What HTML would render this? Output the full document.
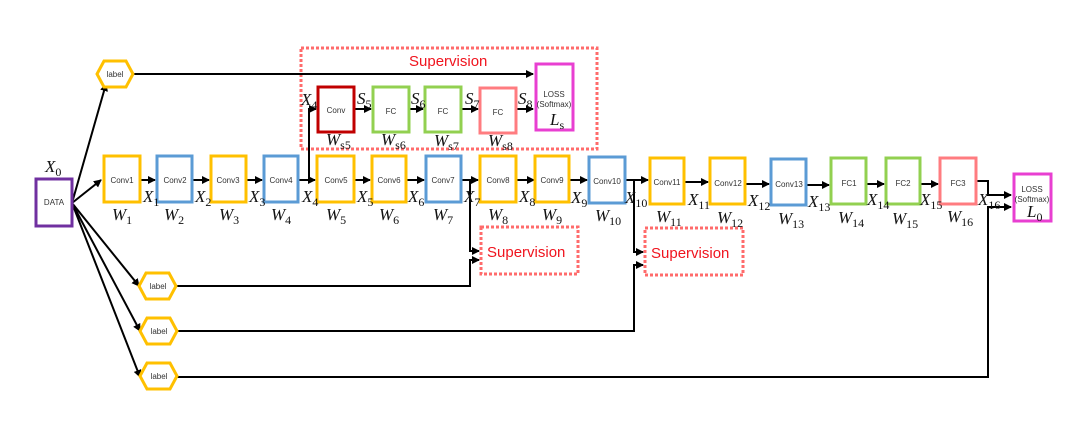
<!DOCTYPE html>
<html><head><meta charset="utf-8"><style>
html,body{margin:0;padding:0;background:#fff;}
svg{display:block;}
.bt{font-family:"Liberation Sans",sans-serif;font-size:8px;fill:#333;text-anchor:middle;}
.m{font-family:"Liberation Serif",serif;font-style:italic;font-size:17px;fill:#111;}
.s{font-size:12px;font-style:normal;}
.sup{font-family:"Liberation Sans",sans-serif;font-size:15px;fill:#f0141e;}
</style></head><body>
<svg width="1080" height="425" viewBox="0 0 1080 425" xmlns="http://www.w3.org/2000/svg">
<defs><marker id="a" markerWidth="8" markerHeight="8" refX="7" refY="4" orient="auto" markerUnits="userSpaceOnUse"><path d="M0,0 L8,4 L0,8 z" fill="#000"/></marker></defs>
<g fill="none" stroke="#ff6b6b" stroke-width="3" stroke-dasharray="3,2">
<rect x="301" y="48" width="296" height="101"/>
<rect x="481" y="227" width="97" height="47"/>
<rect x="645" y="228" width="98" height="47"/>
</g>
<text class="sup" x="409" y="66">Supervision</text>
<text class="sup" x="487" y="257">Supervision</text>
<text class="sup" x="651" y="258">Supervision</text>
<g stroke="#000" stroke-width="2" fill="none">
<line x1="133" y1="74" x2="533" y2="74" marker-end="url(#a)"/>
<line x1="72" y1="203" x2="101" y2="180" marker-end="url(#a)"/>
<line x1="72" y1="203" x2="106" y2="84" marker-end="url(#a)"/>
<line x1="72" y1="203" x2="139" y2="286" marker-end="url(#a)"/>
<line x1="72" y1="203" x2="140" y2="331" marker-end="url(#a)"/>
<line x1="72" y1="203" x2="140" y2="377" marker-end="url(#a)"/>
<polyline points="299,180 309,180 309,109 316,109" marker-end="url(#a)"/>
<line x1="355" y1="109" x2="371" y2="109" marker-end="url(#a)"/>
<line x1="410" y1="109" x2="423" y2="109" marker-end="url(#a)"/>
<line x1="462" y1="109" x2="478" y2="109" marker-end="url(#a)"/>
<line x1="517" y1="109" x2="533" y2="109" marker-end="url(#a)"/>
<polyline points="470,180 470,251 479,251" marker-end="url(#a)"/>
<polyline points="176,286 470,286 470,260 479,260" marker-end="url(#a)"/>
<polyline points="626,180 634,180 634,252 643,252" marker-end="url(#a)"/>
<polyline points="177,331 634,331 634,265 643,265" marker-end="url(#a)"/>
<polyline points="977,181 988,181 988,195 1011,195" marker-end="url(#a)"/>
<polyline points="177,377 988,377 988,207 1011,207" marker-end="url(#a)"/>
</g>
<g stroke="#000" stroke-width="2" marker-end="url(#a)">
<line x1="141" y1="180" x2="155" y2="180"/>
<line x1="193" y1="180" x2="209" y2="180"/>
<line x1="247" y1="180" x2="262" y2="180"/>
<line x1="299" y1="180" x2="315" y2="180"/>
<line x1="355" y1="180" x2="370" y2="180"/>
<line x1="406" y1="180" x2="424" y2="180"/>
<line x1="462" y1="180" x2="478" y2="180"/>
<line x1="517" y1="180" x2="534" y2="180"/>
<line x1="569" y1="180" x2="587" y2="180"/>
<line x1="626" y1="180" x2="648" y2="180"/>
<line x1="684" y1="182" x2="708" y2="182"/>
<line x1="746" y1="184" x2="769" y2="184"/>
<line x1="807" y1="185" x2="829" y2="185"/>
<line x1="867" y1="184" x2="884" y2="184"/>
<line x1="921" y1="184" x2="938" y2="184"/>
</g>
<g fill="#fff" stroke-width="3">
<rect x="36" y="179" width="36" height="47" stroke="#7030a0"/>
<rect x="104" y="156" width="36" height="46" stroke="#ffc000"/>
<rect x="157" y="156" width="35" height="46" stroke="#5b9bd5"/>
<rect x="211" y="156" width="35" height="46" stroke="#ffc000"/>
<rect x="264" y="156" width="34" height="46" stroke="#5b9bd5"/>
<rect x="317" y="156" width="37" height="46" stroke="#ffc000"/>
<rect x="372" y="156" width="34" height="46" stroke="#ffc000"/>
<rect x="426" y="156" width="35" height="46" stroke="#5b9bd5"/>
<rect x="480" y="156" width="36" height="46" stroke="#ffc000"/>
<rect x="535" y="156" width="34" height="46" stroke="#ffc000"/>
<rect x="589" y="157" width="36" height="46" stroke="#5b9bd5"/>
<rect x="650" y="158" width="34" height="46" stroke="#ffc000"/>
<rect x="710" y="158" width="35" height="46" stroke="#ffc000"/>
<rect x="771" y="159" width="35" height="46" stroke="#5b9bd5"/>
<rect x="831" y="158" width="35" height="46" stroke="#92d050"/>
<rect x="886" y="158" width="34" height="46" stroke="#92d050"/>
<rect x="940" y="158" width="36" height="46" stroke="#ff7c80"/>
<rect x="1014" y="174" width="37" height="47" stroke="#e83fd1"/>
<rect x="318" y="87" width="36" height="45" stroke="#c00000"/>
<rect x="373" y="87" width="36" height="45" stroke="#92d050"/>
<rect x="425" y="87" width="36" height="45" stroke="#92d050"/>
<rect x="480" y="88" width="36" height="45" stroke="#ff7c80"/>
<rect x="536" y="64" width="37" height="66" stroke="#e83fd1"/>
<polygon points="104,61 126,61 133,74 126,87 104,87 97,74" stroke="#ffc000"/>
<polygon points="146,273 169,273 176,286 169,299 146,299 139,286" stroke="#ffc000"/>
<polygon points="147,318 170,318 177,331 170,344 147,344 140,331" stroke="#ffc000"/>
<polygon points="147,363 170,363 177,376 170,389 147,389 140,376" stroke="#ffc000"/>
</g>
<g class="bt">
<text x="54" y="205">DATA</text>
<text x="122" y="183">Conv1</text><text x="175" y="183">Conv2</text><text x="228" y="183">Conv3</text>
<text x="281" y="183">Conv4</text><text x="336" y="183">Conv5</text><text x="389" y="183">Conv6</text>
<text x="443" y="183">Conv7</text><text x="498" y="183">Conv8</text><text x="552" y="183">Conv9</text>
<text x="607" y="184">Conv10</text><text x="667" y="185">Conv11</text><text x="728" y="186">Conv12</text>
<text x="789" y="187">Conv13</text><text x="849" y="186">FC1</text><text x="903" y="186">FC2</text>
<text x="958" y="186">FC3</text>
<text x="1032" y="192">LOSS</text><text x="1032" y="202">(Softmax)</text>
<text x="336" y="113">Conv</text><text x="391" y="114">FC</text><text x="443" y="114">FC</text><text x="498" y="115">FC</text>
<text x="554" y="97">LOSS</text><text x="554" y="107">(Softmax)</text>
<text x="115" y="77">label</text><text x="158" y="289">label</text><text x="159" y="334">label</text><text x="159" y="379">label</text>
</g>
<g class="m">
<text x="45" y="172">X<tspan class="s" dy="4">0</tspan></text>
<text x="143" y="202">X<tspan class="s" dy="4">1</tspan></text>
<text x="195" y="202">X<tspan class="s" dy="4">2</tspan></text>
<text x="249" y="202">X<tspan class="s" dy="4">3</tspan></text>
<text x="302" y="202">X<tspan class="s" dy="4">4</tspan></text>
<text x="357" y="202">X<tspan class="s" dy="4">5</tspan></text>
<text x="408" y="202">X<tspan class="s" dy="4">6</tspan></text>
<text x="464" y="202">X<tspan class="s" dy="4">7</tspan></text>
<text x="519" y="202">X<tspan class="s" dy="4">8</tspan></text>
<text x="571" y="203">X<tspan class="s" dy="4">9</tspan></text>
<text x="625" y="203">X<tspan class="s" dy="4">10</tspan></text>
<text x="688" y="205">X<tspan class="s" dy="4">11</tspan></text>
<text x="748" y="206">X<tspan class="s" dy="4">12</tspan></text>
<text x="808" y="207">X<tspan class="s" dy="4">13</tspan></text>
<text x="867" y="205">X<tspan class="s" dy="4">14</tspan></text>
<text x="920" y="205">X<tspan class="s" dy="4">15</tspan></text>
<text x="978" y="205">X<tspan class="s" dy="4">16</tspan></text>
<text x="301" y="105">X<tspan class="s" dy="4">4</tspan></text>
<text x="357" y="104">S<tspan class="s" dy="4">5</tspan></text>
<text x="411" y="104">S<tspan class="s" dy="4">6</tspan></text>
<text x="465" y="104">S<tspan class="s" dy="4">7</tspan></text>
<text x="518" y="104">S<tspan class="s" dy="4">8</tspan></text>
<text x="112" y="220">W<tspan class="s" dy="4">1</tspan></text>
<text x="164" y="220">W<tspan class="s" dy="4">2</tspan></text>
<text x="219" y="220">W<tspan class="s" dy="4">3</tspan></text>
<text x="271" y="220">W<tspan class="s" dy="4">4</tspan></text>
<text x="326" y="220">W<tspan class="s" dy="4">5</tspan></text>
<text x="379" y="220">W<tspan class="s" dy="4">6</tspan></text>
<text x="433" y="220">W<tspan class="s" dy="4">7</tspan></text>
<text x="488" y="220">W<tspan class="s" dy="4">8</tspan></text>
<text x="542" y="220">W<tspan class="s" dy="4">9</tspan></text>
<text x="595" y="221">W<tspan class="s" dy="4">10</tspan></text>
<text x="656" y="222">W<tspan class="s" dy="4">11</tspan></text>
<text x="717" y="223">W<tspan class="s" dy="4">12</tspan></text>
<text x="778" y="224">W<tspan class="s" dy="4">13</tspan></text>
<text x="838" y="223">W<tspan class="s" dy="4">14</tspan></text>
<text x="892" y="224">W<tspan class="s" dy="4">15</tspan></text>
<text x="947" y="222">W<tspan class="s" dy="4">16</tspan></text>
<text x="326" y="145">W<tspan class="s" dy="4">s5</tspan></text>
<text x="381" y="145">W<tspan class="s" dy="4">s6</tspan></text>
<text x="434" y="146">W<tspan class="s" dy="4">s7</tspan></text>
<text x="488" y="146">W<tspan class="s" dy="4">s8</tspan></text>
<text x="550" y="125">L<tspan class="s" dy="4">s</tspan></text>
<text x="1027" y="217">L<tspan class="s" dy="4">0</tspan></text>
</g>
</svg>
</body></html>
